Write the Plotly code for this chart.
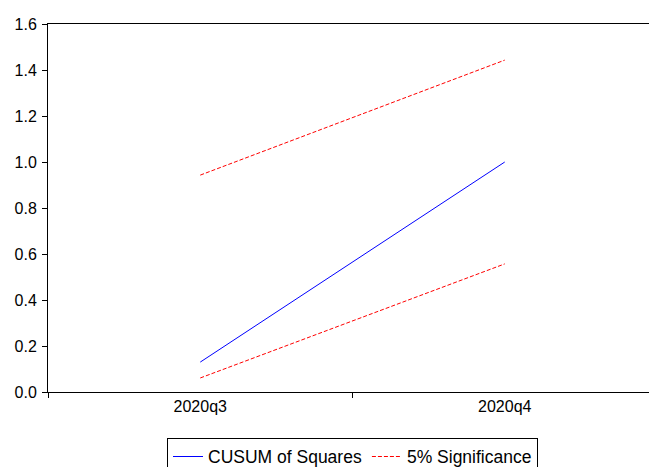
import plotly.graph_objects as go

categories = ["2020q3", "2020q4"]
cusum_sq = [0.13, 1.00]
upper_5pct = [0.943, 1.443]
lower_5pct = [0.061, 0.557]
y_ticks = [0.0, 0.2, 0.4, 0.6, 0.8, 1.0, 1.2, 1.4, 1.6]

fig = go.Figure()
fig.add_trace(go.Scatter(x=categories, y=cusum_sq, mode="lines", name="CUSUM of Squares",
                         line=dict(color="#0000FF", width=1)))
fig.add_trace(go.Scatter(x=categories, y=upper_5pct, mode="lines", name="5% Significance",
                         line=dict(color="#FF0000", width=1, dash="4px,2px")))
fig.add_trace(go.Scatter(x=categories, y=lower_5pct, mode="lines", name="5% Significance",
                         showlegend=False,
                         line=dict(color="#FF0000", width=1, dash="4px,2px")))

# the page body adds an 8px offset, so the figure is sized to fit the window
fig.update_layout(
    width=649, height=459,
    margin=dict(l=40, r=0, t=16, b=75, autoexpand=False),
    paper_bgcolor="white", plot_bgcolor="white",
    font=dict(family="Liberation Sans, Arial, sans-serif", size=16, color="black"),
    showlegend=True,
    legend=dict(orientation="h", x=0.5, xanchor="center", y=-0.124, yanchor="top",
                bordercolor="black", borderwidth=1, font=dict(size=17.5),
                itemwidth=30, tracegroupgap=0),
)
fig.update_xaxes(type="category", range=[-0.5, 1.5], showline=True, linecolor="black",
                 linewidth=1, mirror=True, ticks="outside", tickson="boundaries",
                 ticklen=5, tickcolor="black", showgrid=False, zeroline=False,
                 automargin=False)
fig.update_yaxes(range=[0, 1.6], tickvals=y_ticks, ticktext=[f"{v:.1f}" for v in y_ticks],
                 showline=True, linecolor="black", linewidth=1, ticks="outside",
                 ticklen=5, tickcolor="black", showgrid=False, zeroline=False,
                 automargin=False, ticklabelstandoff=2)

fig.write_html("out.html")
